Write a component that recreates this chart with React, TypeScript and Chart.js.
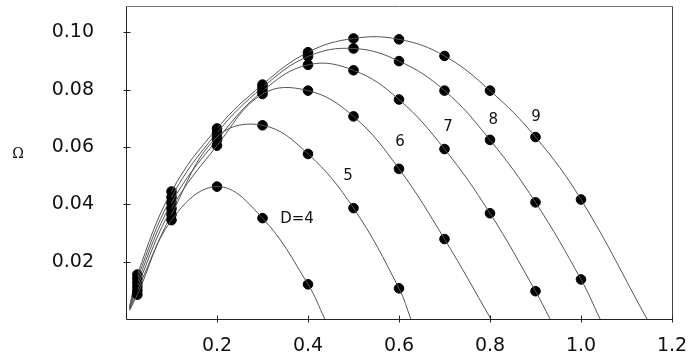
import React, { useEffect, useRef } from "react";
import { Chart, registerables } from "chart.js";

Chart.register(...registerables);

// Wavenumber grid shared by all measured points
const kValues = [0.025, 0.1, 0.2, 0.3, 0.4, 0.5, 0.6, 0.7, 0.8, 0.9, 1.0];

// Measured growth rates for each D (the i-th value belongs to kValues[i])
const omegaD4 = [0.0085, 0.0345, 0.0462, 0.0352, 0.0121];
const omegaD5 = [0.0099, 0.0365, 0.0635, 0.0676, 0.0576, 0.0387, 0.0107];
const omegaD6 = [0.0113, 0.0385, 0.0605, 0.0785, 0.0797, 0.0707, 0.0524, 0.0279];
const omegaD7 = [0.0127, 0.0405, 0.0625, 0.0795, 0.0887, 0.0868, 0.0766, 0.0593, 0.0369, 0.0097];
const omegaD8 = [0.0141, 0.0425, 0.065, 0.0808, 0.0916, 0.0944, 0.09, 0.0797, 0.0625, 0.0407, 0.0138];
const omegaD9 = [0.0155, 0.0445, 0.0665, 0.0818, 0.0931, 0.0979, 0.0976, 0.0918, 0.0797, 0.0635, 0.0417];

const dValues = [4, 5, 6, 7, 8, 9];
const omegaByD = [omegaD4, omegaD5, omegaD6, omegaD7, omegaD8, omegaD9];

// Fitted curves: where each starts near the origin and where it returns to zero
const curveStartK = 0.008;
const curveStartOmega = [0.003, 0.0033, 0.0036, 0.0039, 0.0042, 0.0045];
const zeroCrossingK = [0.437, 0.626, 0.802, 0.932, 1.042, 1.145];

// Curve labels
const labelTexts = ["D=4", "5", "6", "7", "8", "9"];
const labelK = [0.376, 0.488, 0.602, 0.708, 0.807, 0.901];
const labelOmega = [0.0348, 0.0497, 0.0618, 0.0669, 0.0693, 0.0704];

const yTicks = [0.02, 0.04, 0.06, 0.08, 0.1];
const xTicks = [0.2, 0.4, 0.6, 0.8, 1.0, 1.2];

const frameAndMarks = {
  id: "frameAndMarks",
  afterDraw(chart: any) {
    const { ctx, chartArea: a, scales } = chart;
    const xs = scales.x;
    const ys = scales.y;
    const l = Math.round(a.left) + 0.5;
    const r = Math.round(a.right) + 0.5;
    const t = Math.round(a.top) + 0.5;
    const b = Math.round(a.bottom) + 0.5;
    ctx.save();
    ctx.lineWidth = 1;
    const seg = (x1: number, y1: number, x2: number, y2: number, color: string) => {
      ctx.strokeStyle = color;
      ctx.beginPath();
      ctx.moveTo(x1, y1);
      ctx.lineTo(x2, y2);
      ctx.stroke();
    };
    seg(l, t, r, t, "#777");
    seg(r, t, r, b, "#444");
    seg(l, b, r, b, "#222");
    seg(l, t, l, b, "#222");
    for (const v of yTicks) {
      const py = Math.round(ys.getPixelForValue(v)) + 0.5;
      seg(l - 3, py, l + 4, py, "#222");
    }
    for (const v of xTicks) {
      const px = Math.round(xs.getPixelForValue(v)) + 0.5;
      seg(px, b - 4, px, b + 3, "#222");
    }

    // curve labels
    ctx.fillStyle = "#111";
    ctx.font = '15px "DejaVu Sans"';
    ctx.textAlign = "center";
    ctx.textBaseline = "middle";
    labelTexts.forEach((txt, i) => {
      ctx.fillText(txt, xs.getPixelForValue(labelK[i]), ys.getPixelForValue(labelOmega[i]));
    });

    // axis symbol
    ctx.font = '14px "DejaVu Serif"';
    ctx.fillText("\u03A9", 18, 154);
    ctx.restore();
  },
};

export default function App() {
  const ref = useRef<HTMLCanvasElement | null>(null);

  useEffect(() => {
    if (!ref.current) return;
    const datasets: any[] = [];
    dValues.forEach((d, i) => {
      const pts = omegaByD[i].map((w, j) => ({ x: kValues[j], y: w }));
      datasets.push({
        type: "line",
        label: `curve D=${d}`,
        data: [{ x: curveStartK, y: curveStartOmega[i] }, ...pts, { x: zeroCrossingK[i], y: 0 }],
        borderColor: "#555",
        borderWidth: 1,
        pointRadius: 0,
        tension: 0.4,
        fill: false,
      });
      datasets.push({
        type: "scatter",
        label: `D=${d}`,
        data: pts,
        backgroundColor: "#000",
        borderColor: "#000",
        pointRadius: 4.8,
        showLine: false,
      });
    });

    const chart = new Chart(ref.current, {
      type: "scatter",
      data: { datasets },
      options: {
        animation: false,
        responsive: false,
        devicePixelRatio: 1,
        layout: { padding: { left: 0, top: 2, right: 20, bottom: 0 } },
        plugins: { legend: { display: false }, tooltip: { enabled: false } },
        scales: {
          x: {
            type: "linear",
            min: 0,
            max: 1.2,
            grid: { display: false },
            border: { display: false },
            afterBuildTicks: (s: any) => {
              s.ticks = xTicks.map((v) => ({ value: v }));
            },
            afterFit: (s: any) => {
              s.height = 42;
              s.paddingLeft = 0;
              s.paddingRight = 0;
            },
            ticks: {
              padding: 8,
              color: "#111",
              font: { family: "DejaVu Sans", size: 19 },
              callback: (v: any) => Number(v).toFixed(1),
            },
          },
          y: {
            type: "linear",
            min: 0,
            max: 0.1093,
            grid: { display: false },
            border: { display: false },
            afterBuildTicks: (s: any) => {
              s.ticks = yTicks.map((v) => ({ value: v }));
            },
            afterFit: (s: any) => {
              s.width = 126;
              s.paddingTop = 0;
              s.paddingBottom = 0;
            },
            ticks: {
              padding: 24,
              color: "#111",
              font: { family: "DejaVu Sans", size: 19 },
              callback: (v: any) => Number(v).toFixed(2),
            },
          },
        },
      },
      plugins: [frameAndMarks],
    });
    return () => chart.destroy();
  }, []);

  return (
    <div style={{ position: "fixed", left: 0, top: 0, width: 692, height: 361, background: "#fff" }}>
      <canvas ref={ref} width={692} height={361} />
    </div>
  );
}
